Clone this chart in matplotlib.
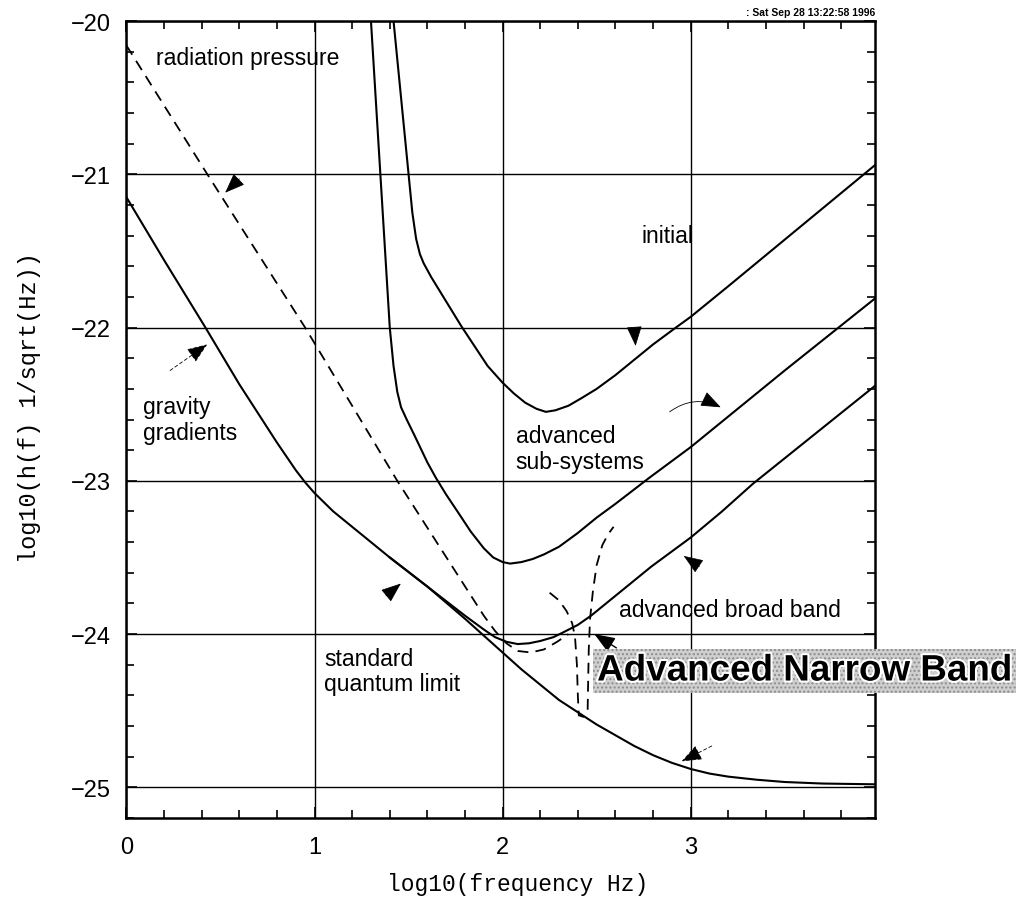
import matplotlib
matplotlib.use("Agg")
import matplotlib.pyplot as plt
import matplotlib.patheffects as pe
from matplotlib.ticker import MultipleLocator

## DATA
x_low = [0.0, 0.2, 0.42, 0.6, 0.8, 0.9, 0.95, 1.0, 1.05, 1.1, 1.2, 1.3, 1.4, 1.6, 1.8,
         1.9, 2.0, 2.1, 2.2, 2.3, 2.4, 2.5, 2.6, 2.7, 2.8, 2.9, 3.0, 3.1, 3.2, 3.35, 3.5,
         3.7, 3.98]
y_low = [-21.15, -21.56, -22.0, -22.37, -22.75, -22.93, -23.01, -23.08, -23.14, -23.2,
         -23.3, -23.4, -23.5, -23.69, -23.9, -24.01, -24.12, -24.23, -24.33, -24.43,
         -24.51, -24.59, -24.66, -24.73, -24.79, -24.84, -24.88, -24.91, -24.93, -24.95,
         -24.965, -24.975, -24.98]

x_init = [1.42, 1.46, 1.50, 1.52, 1.54, 1.56, 1.58, 1.62, 1.7, 1.78, 1.85, 1.92, 2.0,
          2.06, 2.12, 2.18, 2.23, 2.28, 2.35, 2.42, 2.5, 2.6, 2.71, 2.8, 2.91, 3.0, 3.2,
          3.98]
y_init = [-20.0, -20.5, -21.0, -21.25, -21.42, -21.52, -21.58, -21.67, -21.83, -21.99,
          -22.12, -22.25, -22.36, -22.43, -22.49, -22.53, -22.55, -22.54, -22.51, -22.46,
          -22.4, -22.31, -22.2, -22.11, -22.01, -21.93, -21.73, -20.94]

x_sub = [1.30, 1.35, 1.40, 1.42, 1.44, 1.46, 1.49, 1.53, 1.6, 1.645, 1.7, 1.76, 1.83,
         1.9, 1.95, 2.0, 2.04, 2.1, 2.16, 2.22, 2.3, 2.4, 2.5, 2.6, 2.78, 3.0, 3.5, 3.98]
y_sub = [-20.0, -21.0, -22.0, -22.25, -22.42, -22.52, -22.6, -22.7, -22.88, -22.98,
         -23.09, -23.2, -23.33, -23.44, -23.5, -23.53, -23.54, -23.53, -23.51, -23.48,
         -23.43, -23.34, -23.24, -23.15, -22.98, -22.78, -22.28, -21.81]

x_broad = [1.4, 1.6, 1.8, 1.9, 1.96, 2.02, 2.08, 2.14, 2.2, 2.27, 2.32, 2.4, 2.47, 2.55,
           2.65, 2.79, 3.0, 3.166, 3.33, 3.98]
y_broad = [-23.5, -23.69, -23.88, -23.97, -24.02, -24.05, -24.065, -24.06, -24.045,
           -24.02, -23.99, -23.94, -23.88, -23.8, -23.7, -23.56, -23.37, -23.2, -23.02,
           -22.38]

x_rad = [0.0, 0.43, 0.95, 1.44, 1.9, 1.96, 2.02, 2.08, 2.15, 2.22, 2.29, 2.35]
y_rad = [-20.16, -21.0, -22.0, -23.0, -23.88, -23.98, -24.06, -24.11, -24.12, -24.1,
         -24.05, -24.0]

x_narrow = [2.25, 2.30, 2.34, 2.37, 2.385, 2.395, 2.40, 2.405, 2.43, 2.452, 2.455,
            2.458, 2.465, 2.48, 2.50, 2.53, 2.56, 2.59]
y_narrow = [-23.73, -23.78, -23.85, -23.93, -24.02, -24.2, -24.4, -24.53, -24.54,
            -24.5, -24.3, -24.1, -23.9, -23.72, -23.55, -23.42, -23.35, -23.3]

labels = [
    ("radiation pressure", 0.157, -20.24),
    ("initial", 2.74, -21.40),
    ("gravity\ngradients", 0.09, -22.60),
    ("advanced\nsub-systems", 2.07, -22.79),
    ("standard\nquantum limit", 1.05, -24.24),
    ("advanced broad band", 2.62, -23.84),
]

# (tail, tip, tail style)
arrows = [
    ((0.60, -21.03), (0.525, -21.12), None),
    ((0.232, -22.28), (0.429, -22.11), "dash"),
    ((1.38, -23.75), (1.459, -23.67), None),
    ((2.70, -22.0), (2.707, -22.12), None),
    ((2.888, -22.55), (3.16, -22.52), "arc"),
    ((3.048, -23.56), (2.963, -23.49), "faint"),
    ((2.605, -24.09), (2.488, -24.0), "solid"),
    ((3.112, -24.73), (2.952, -24.83), "dash"),
]

## FIGURE
fig = plt.figure(figsize=(10.19, 9.03), dpi=100)
ax = fig.add_axes([0.1241, 0.0930, 0.7346, 0.8826])

ax.set_xlim(0, 3.98)
ax.set_ylim(-25.2, -20)

lw = 1.5
ax.plot(x_low, y_low, color="black", lw=lw)
ax.plot(x_init, y_init, color="black", lw=lw)
ax.plot(x_sub, y_sub, color="black", lw=lw)
ax.plot(x_broad, y_broad, color="black", lw=lw)
ax.plot(x_rad, y_rad, color="black", lw=1.3, dashes=(6, 4))
ax.plot(x_narrow, y_narrow, color="black", lw=1.3, dashes=(6, 4))

## grid + ticks
ax.xaxis.set_major_locator(MultipleLocator(1))
ax.yaxis.set_major_locator(MultipleLocator(1))
ax.xaxis.set_minor_locator(MultipleLocator(0.2))
ax.yaxis.set_minor_locator(MultipleLocator(0.2))
ax.grid(True, which="major", color="black", lw=1.0)
ax.tick_params(which="both", direction="in", top=True, right=True)
ax.tick_params(which="major", length=8, width=1.2, labelsize=17, pad=11)
ax.tick_params(axis="x", which="major", pad=13)
ax.tick_params(which="minor", length=6, width=1.2)
for lab in ax.get_xticklabels() + ax.get_yticklabels():
    lab.set_fontfamily("Liberation Sans")
for s in ax.spines.values():
    s.set_linewidth(1.8)

ax.set_xlabel("log10(frequency Hz)", family="Liberation Mono", fontsize=16.5, va="center")
ax.xaxis.set_label_coords(0.523, -0.0816)
ax.set_ylabel("log10(h(f) 1/sqrt(Hz))", family="Liberation Mono", fontsize=17, va="center")
ax.yaxis.set_label_coords(-0.129, 0.516)

## labels
for txt, x, y in labels:
    ax.text(x, y, txt, family="Liberation Sans", fontsize=16.5, ha="left", va="center",
            linespacing=1.15)

## arrows
for tail, tip, style in arrows:
    props = dict(arrowstyle="-|>,head_length=0.9,head_width=0.35", color="black",
                 shrinkA=0, shrinkB=0, mutation_scale=14, lw=0.6)
    if style == "dash":
        props["ls"] = (0, (4, 3))
        props["lw"] = 0.6
    elif style == "arc":
        props["connectionstyle"] = "arc3,rad=-0.3"
        props["lw"] = 0.6
    elif style == "faint":
        props["lw"] = 0.4
    elif style == "solid":
        props["lw"] = 1.0
    ax.annotate("", xy=tip, xytext=tail, arrowprops=props)

## big narrow band label
fig.text(0.586, 0.2558, "Advanced Narrow Band", family="Liberation Sans",
         fontweight="bold", fontsize=26.5, ha="left", va="center",
         path_effects=[pe.withStroke(linewidth=3, foreground="white")],
         bbox=dict(boxstyle="square,pad=0.12", facecolor="#cfcfcf",
                   edgecolor="#8c8c8c", lw=0, hatch="...."))

fig.text(0.859, 0.986, ": Sat Sep 28 13:22:58 1996", fontsize=7.5, fontweight="bold",
         ha="right", va="center", family="Liberation Sans")

fig.savefig("out.png", dpi=100, facecolor="white")
